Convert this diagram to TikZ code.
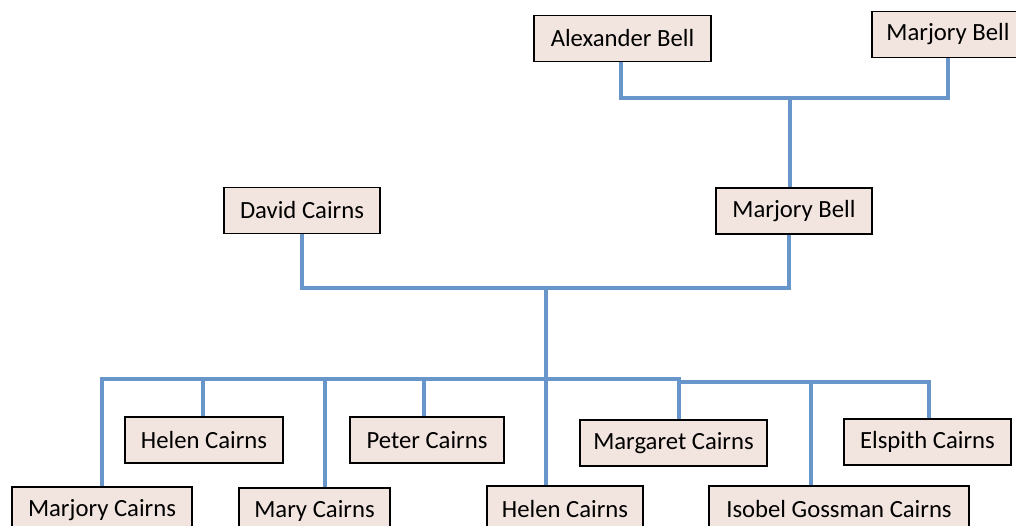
\documentclass[tikz,border=0pt]{standalone}
\usepackage{fontspec}
\setmainfont{Carlito}
\usetikzlibrary{backgrounds}
\begin{document}
\definecolor{boxfill}{RGB}{242,228,222}
\definecolor{linkblue}{RGB}{104,150,203}
\begin{tikzpicture}[x=1pt,y=-1pt,
  person/.style={draw=black, line width=1.5pt, fill=boxfill, inner sep=0pt,
    minimum height=46pt, font=\fontsize{24.7}{29}\selectfont},
  link/.style={draw=linkblue, line width=4pt, line join=miter, line cap=rect}]
\useasboundingbox (0,0) rectangle (1016,526);

% grandparents
\node[person, minimum width=177pt] (ab)  at (622.5,38.5) {Alexander Bell};
\node[person, minimum width=152pt] (mbg) at (948,34.5) {Marjory Bell};
% parents
\node[person, minimum width=156pt] (dc)  at (302,210.5) {David Cairns};
\node[person, minimum width=156pt] (mbp) at (794,211) {Marjory Bell};
% children, upper row
\node[person, minimum width=158pt] (hc1) at (204,440) {Helen Cairns};
\node[person, minimum width=154pt] (pc)  at (427,440) {Peter Cairns};
\node[person, minimum width=187pt] (mgc) at (673.5,443) {Margaret Cairns};
\node[person, minimum width=167pt] (ec)  at (927.5,442) {Elspith Cairns};
% children, lower row
\node[person, minimum width=180pt] (mjc) at (102,510) {Marjory Cairns};
\node[person, minimum width=151pt] (myc) at (314.5,511) {Mary Cairns};
\node[person, minimum width=156pt] (hc2) at (565,509) {Helen Cairns};
\node[person, minimum width=260pt] (igc) at (839,509) {Isobel Gossman Cairns};

% junction points of the connector lines
\coordinate (gj)  at (790,98);
\coordinate (pj)  at (546,288);
\coordinate (bl)  at (102,379);
\coordinate (bm)  at (679,379);
\coordinate (br)  at (929,381.5);
\coordinate (xhc1) at (203,379);
\coordinate (xmyc) at (325,379);
\coordinate (xpc)  at (424,379);
\coordinate (xhc2) at (546,379);
\coordinate (xigc) at (811,381.5);

\begin{scope}[on background layer]
% grandparents to parent
\draw[link] ([xshift=-1.5pt]ab.south) |- (gj) -| (mbg.south);
\draw[link] (gj) -- ([xshift=-4pt]mbp.north);

% parents to children
\draw[link] (dc.south) |- ([xshift=-5pt]mbp.south |- pj) -- ([xshift=-5pt]mbp.south);
\draw[link] (pj) -- (xhc2);

% sibling bar with its outer drops
\draw[link] (mjc.north) -- (bl) -- (bm);
\draw[link] (bm |- br) -- (br) -- (br |- ec.north);

% drops to the other children
\draw[link] (xhc1) -- (xhc1 |- hc1.north);
\draw[link] (xmyc) -- (xmyc |- myc.north);
\draw[link] (xpc) -- (xpc |- pc.north);
\draw[link] (xhc2) -- (xhc2 |- hc2.north);
\draw[link] (bm) -- (bm |- mgc.north);
\draw[link] (xigc) -- (xigc |- igc.north);
\end{scope}
\end{tikzpicture}
\end{document}
